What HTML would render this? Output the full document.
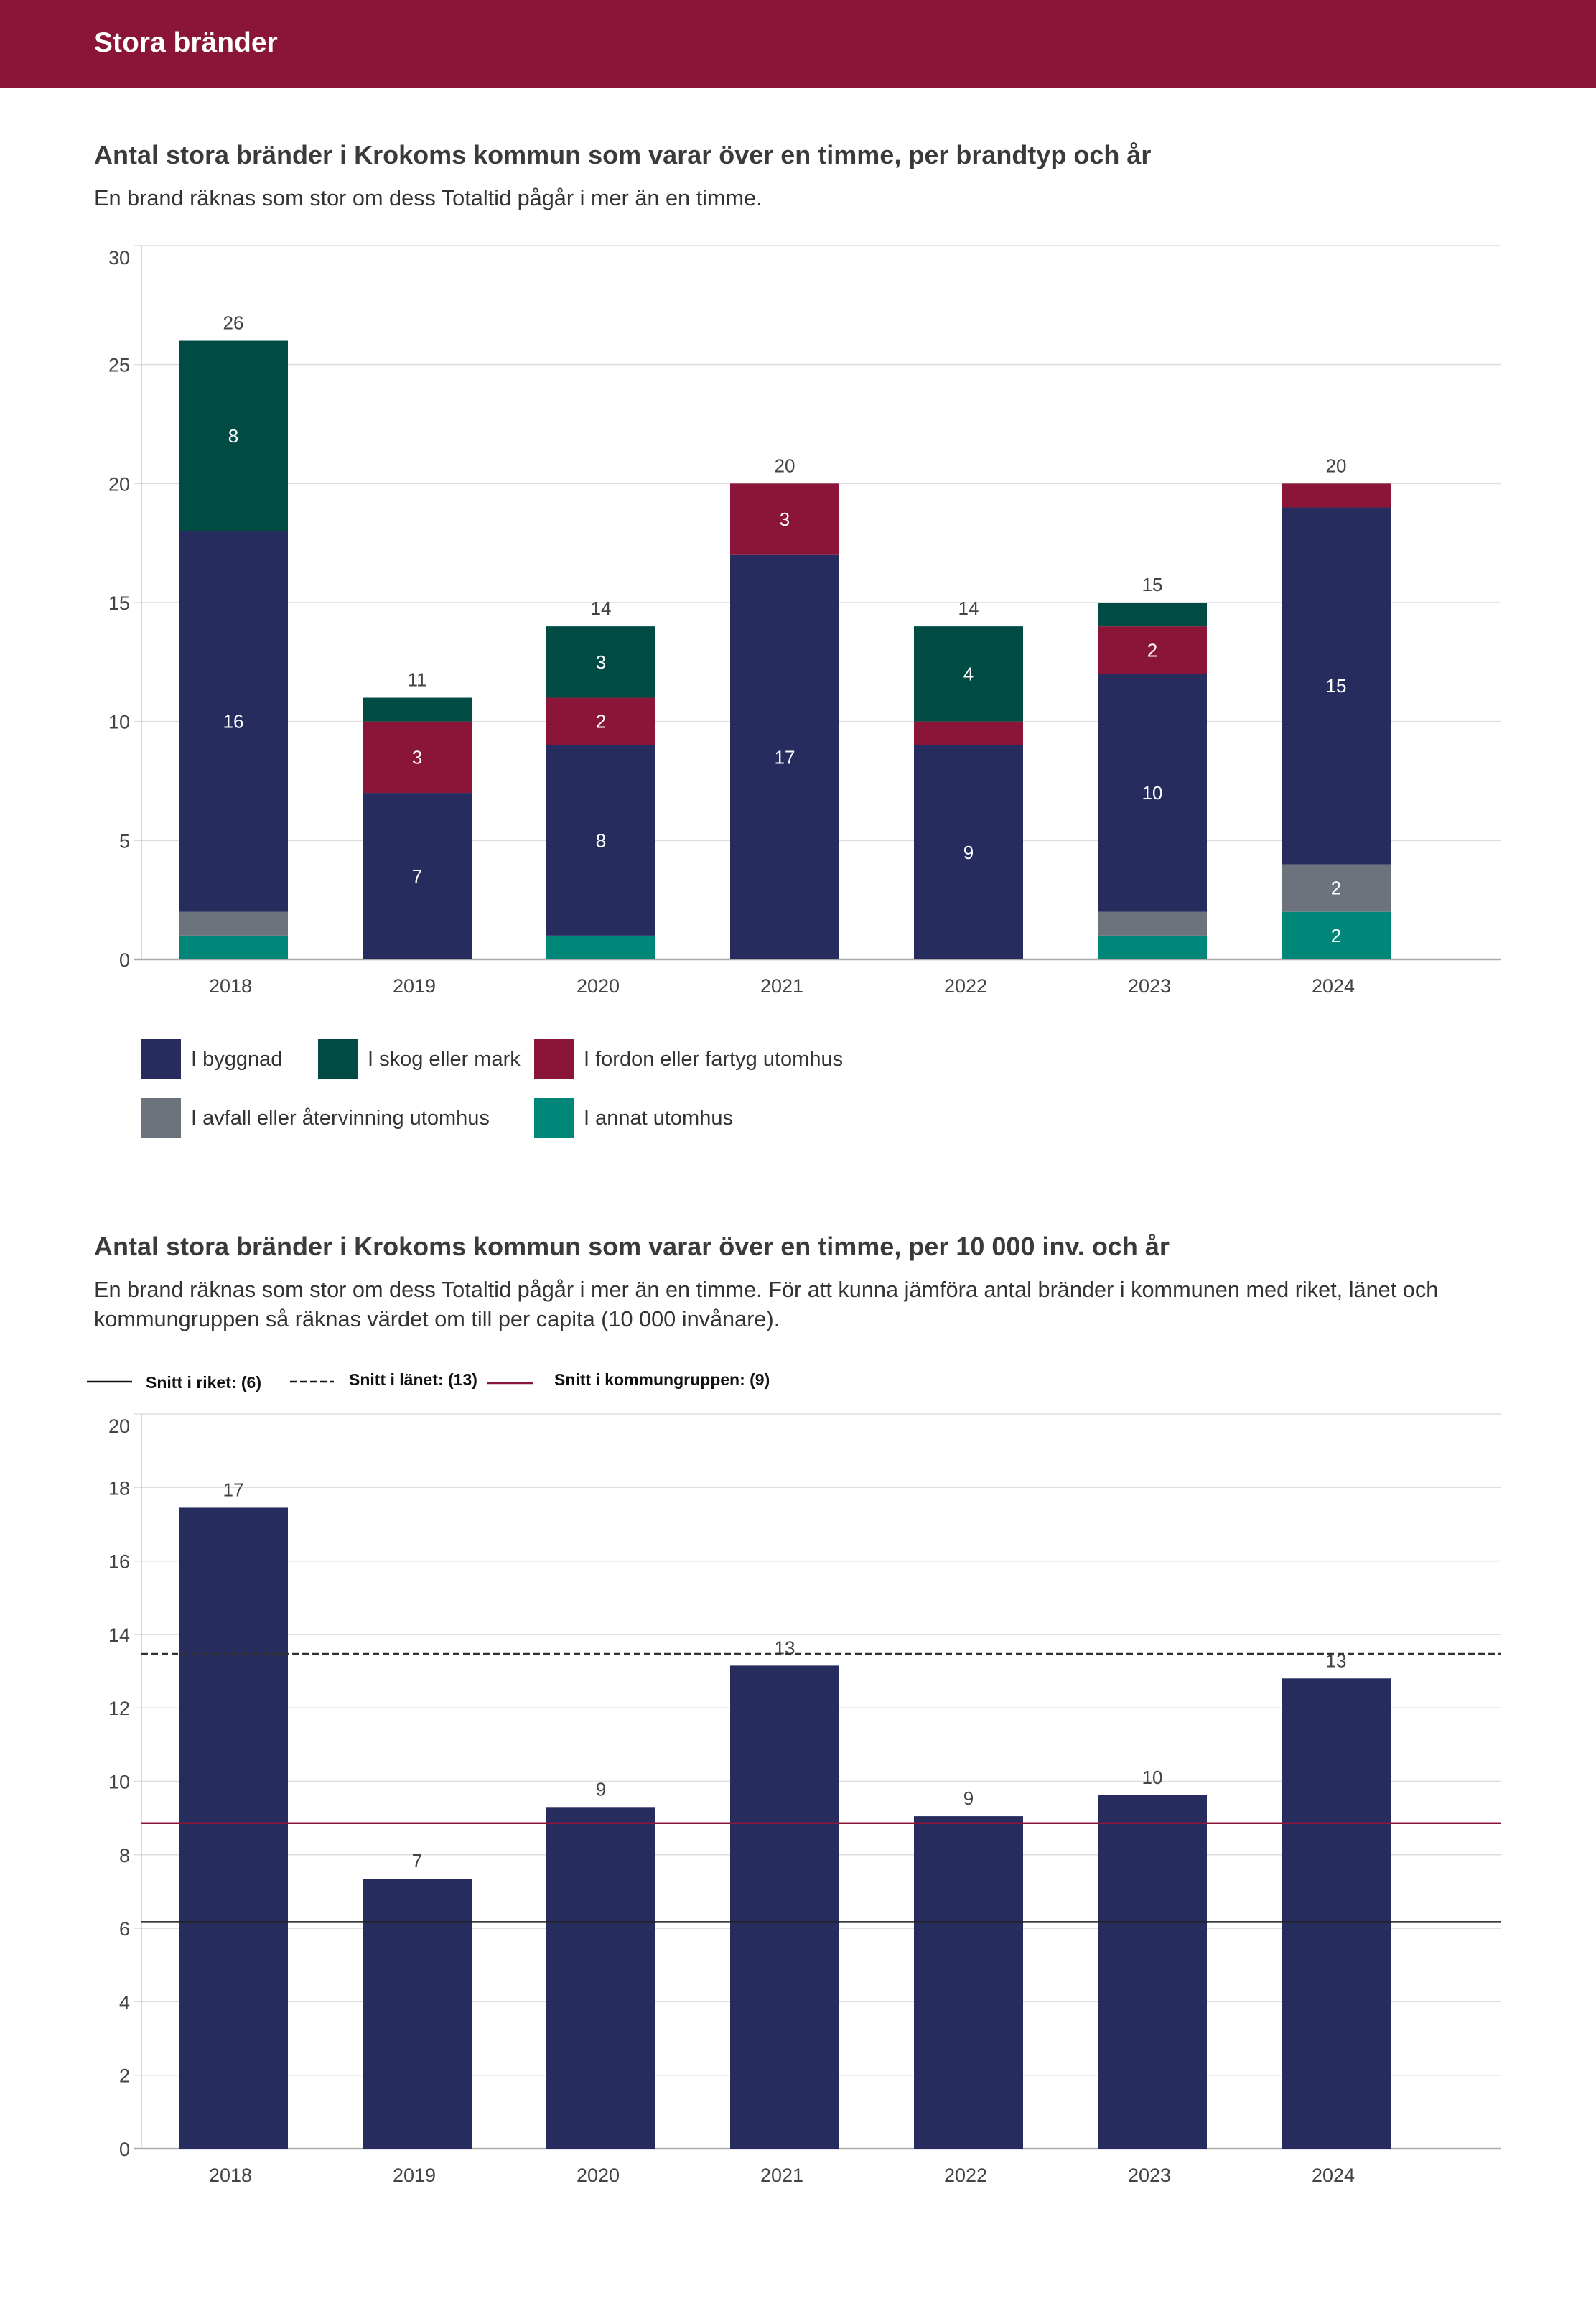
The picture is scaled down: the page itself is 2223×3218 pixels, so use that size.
<!DOCTYPE html>
<html><head><meta charset="utf-8">
<style>
html,body{margin:0;padding:0;background:#fff;}
body{width:2223px;height:3213px;overflow:hidden;font-family:"Liberation Sans",sans-serif;}
svg text{font-family:"Liberation Sans",sans-serif;}
</style></head>
<body>
<svg id="page" width="2223" height="3213" viewBox="0 0 2223 3213" xmlns="http://www.w3.org/2000/svg">
  <rect x="0" y="0" width="2223" height="122" fill="#8B1538"/>
  <text x="131" y="72" font-size="39" font-weight="bold" fill="#fff">Stora bränder</text>
 <g transform="translate(0,2)">
  <text x="131" y="226" font-size="36" font-weight="bold" fill="#3a3a3a">Antal stora bränder i Krokoms kommun som varar över en timme, per brandtyp och år</text>
  <text x="131" y="284" font-size="30.7" fill="#333">En brand räknas som stor om dess Totaltid pågår i mer än en timme.</text>
  <g id="chart1"></g>
  <g id="legend1"></g>

  <text x="131" y="1746" font-size="36" font-weight="bold" fill="#3a3a3a">Antal stora bränder i Krokoms kommun som varar över en timme, per 10 000 inv. och år</text>
  <text x="131" y="1804" font-size="30.7" fill="#333">En brand räknas som stor om dess Totaltid pågår i mer än en timme. För att kunna jämföra antal bränder i kommunen med riket, länet och</text>
  <text x="131" y="1845" font-size="30.7" fill="#333">kommungruppen så räknas värdet om till per capita (10 000 invånare).</text>
  <g id="legend2">
    <line x1="121" y1="1922" x2="184" y2="1922" stroke="#111" stroke-width="2.5"/>
    <text x="203" y="1931" font-size="23" font-weight="bold" fill="#111">Snitt i riket: (6)</text>
    <line x1="404" y1="1922" x2="465" y2="1922" stroke="#111" stroke-width="2.5" stroke-dasharray="9,5"/>
    <text x="486" y="1927" font-size="23" font-weight="bold" fill="#111">Snitt i länet: (13)</text>
    <line x1="678" y1="1924" x2="742" y2="1924" stroke="#8B1538" stroke-width="2.5"/>
    <text x="772" y="1927" font-size="23" font-weight="bold" fill="#111">Snitt i kommungruppen: (9)</text>
  </g>
  <g id="chart2"></g>
 </g>
</svg>
<script>
const years = ['2018','2019','2020','2021','2022','2023','2024'];
const annat = [1,0,1,0,0,1,2];
const avfall = [1,0,0,0,0,1,2];
const byggnad = [16,7,8,17,9,10,15];
const fordon = [0,3,2,3,1,2,1];
const skog = [8,1,3,0,4,1,0];
const ticks1 = [0,5,10,15,20,25,30];

const perCapita = [17.45,7.35,9.3,13.15,9.05,9.62,12.8];
const perCapitaLabels = ['17','7','9','13','9','10','13'];
const ticks2 = [0,2,4,6,8,10,12,14,16,18,20];
const snittRiket = [6.17];
const snittLanet = [13.47];
const snittKommungrupp = [8.86];

const NS='http://www.w3.org/2000/svg';
function mk(tag, attrs, parent, txt){const e=document.createElementNS(NS,tag);for(const k in attrs)e.setAttribute(k,attrs[k]);if(txt!==undefined)e.textContent=txt;parent.appendChild(e);return e;}

const X0=197, X1=2090, BAND=256, BW=152;
function xc(i){return X0+BAND/2+BAND*i;}

// chart 1
const c1=document.getElementById('chart1');
const Y1b=1334, Y1t=340, MAX1=30;
function y1(v){return Y1b-(Y1b-Y1t)*v/MAX1;}
ticks1.forEach((t,k)=>{
  const g=mk('line',{x1:X0-10,x2:X1,y1:y1(t),y2:y1(t),stroke:t===0?'#aaa':'#ddd','stroke-width':t===0?2.5:1.5},c1);
  
  
  const off=(k===ticks1.length-1)?26:10;
  const l=mk('text',{x:X0-16,y:y1(t)+off,'font-size':27,fill:'#444','text-anchor':'end'},c1,String(t));
  
  
});
const ax1=mk('line',{x1:X0,x2:X0,y1:Y1t,y2:Y1b,stroke:'#ccc','stroke-width':1.5},c1);


const series=[['annat',annat,'#00877A'],['avfall',avfall,'#6C737C'],['byggnad',byggnad,'#262D5E'],['fordon',fordon,'#8B1538'],['skog',skog,'#004B43']];
years.forEach((yr,i)=>{
  let cum=0;
  series.forEach(([nm,arr,col])=>{
    const v=arr[i]; if(!v) return;
    const top=y1(cum+v), bot=y1(cum);
    const r=mk('rect',{x:xc(i)-BW/2,y:top,width:BW,height:bot-top,fill:col},c1);
    
    
    if(v>=2){
      const t=mk('text',{x:xc(i),y:(top+bot)/2+9,'font-size':26,fill:'#fff','text-anchor':'middle'},c1,String(v));
      
      
    }
    cum+=v;
  });
  const tl=mk('text',{x:xc(i),y:y1(cum)-16,'font-size':26,fill:'#444','text-anchor':'middle'},c1,String(cum));
  
  
  const xl=mk('text',{x:xc(i)-4,y:1380,'font-size':27,fill:'#444','text-anchor':'middle'},c1,yr);
  
  
});

// legend 1
const lg=document.getElementById('legend1');
const legItems=[['I byggnad','#262D5E',197,1445],['I skog eller mark','#004B43',443,1445],['I fordon eller fartyg utomhus','#8B1538',744,1445],['I avfall eller återvinning utomhus','#6C737C',197,1527],['I annat utomhus','#00877A',744,1527]];
legItems.forEach(([lab,col,x,y])=>{
  const s=mk('rect',{x:x,y:y,width:55,height:55,fill:col},lg);
  
  
  const t=mk('text',{x:x+69,y:y+37,'font-size':29,fill:'#333'},lg,lab);
  
  
});

// chart 2
const c2=document.getElementById('chart2');
const Y2b=2990, Y2t=1967, MAX2=20;
function y2(v){return Y2b-(Y2b-Y2t)*v/MAX2;}
ticks2.forEach((t,k)=>{
  const g=mk('line',{x1:X0-10,x2:X1,y1:y2(t),y2:y2(t),stroke:t===0?'#aaa':'#ddd','stroke-width':t===0?2.5:1.5},c2);
  
  
  const off=(k===ticks2.length-1)?26:10;
  const l=mk('text',{x:X0-16,y:y2(t)+off,'font-size':27,fill:'#444','text-anchor':'end'},c2,String(t));
  
  
});
const ax2=mk('line',{x1:X0,x2:X0,y1:Y2t,y2:Y2b,stroke:'#ccc','stroke-width':1.5},c2);


years.forEach((yr,i)=>{
  const v=perCapita[i];
  const r=mk('rect',{x:xc(i)-BW/2,y:y2(v),width:BW,height:Y2b-y2(v),fill:'#262D5E'},c2);
  
  
  const t=mk('text',{x:xc(i),y:y2(v)-16,'font-size':26,fill:'#444','text-anchor':'middle'},c2,perCapitaLabels[i]);
  
  
  const xl=mk('text',{x:xc(i)-4,y:3036,'font-size':27,fill:'#444','text-anchor':'middle'},c2,yr);
  
  
});
const rl=mk('line',{x1:X0,x2:X1,y1:y2(snittRiket[0]),y2:y2(snittRiket[0]),stroke:'#222','stroke-width':2.5},c2);


const ll=mk('line',{x1:X0,x2:X1,y1:y2(snittLanet[0]),y2:y2(snittLanet[0]),stroke:'#333','stroke-width':2.5,'stroke-dasharray':'9,5'},c2);


const kl=mk('line',{x1:X0,x2:X1,y1:y2(snittKommungrupp[0]),y2:y2(snittKommungrupp[0]),stroke:'#8B1538','stroke-width':2.5},c2);


</script>
</body></html>
